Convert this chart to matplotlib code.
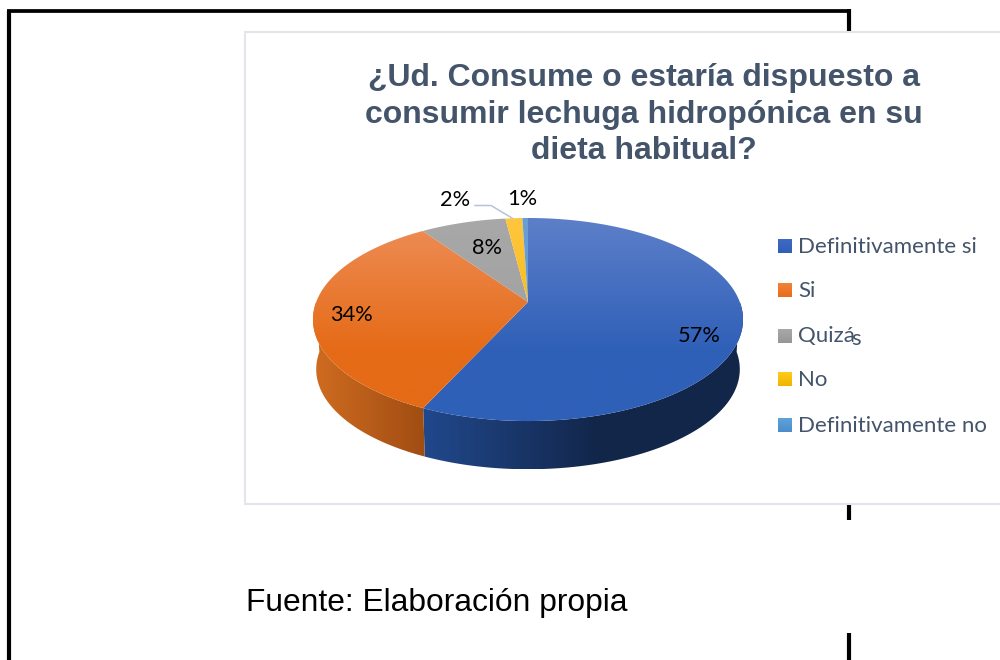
import numpy as np
import matplotlib
matplotlib.use("Agg")
import matplotlib.pyplot as plt
from matplotlib.patches import Polygon, Rectangle
from matplotlib.colors import LinearSegmentedColormap

categories = ["Definitivamente si", "Si", "Quizás", "No", "Definitivamente no"]
shares = [56.85, 33.55, 7.6, 1.5, 0.5]
pct_labels = ["57%", "34%", "8%", "2%", "1%"]
title_lines = ["¿Ud. Consume o estaría dispuesto a",
               "consumir lechuga hidropónica en su",
               "dieta habitual?"]
source_text = "Fuente: Elaboración propia"

top_colors = [("#5D7FC9", "#2F60B8"), ("#EE8E58", "#E56B17"), ("#A8A8A8", "#A0A0A0"),
              ("#FFC63F", "#F5B90A"), ("#6A9FD6", "#5B9BD5")]
side_colors = [("#21488C", "#12264A"), ("#D06C20", "#A04D13")]
legend_colors = [("#3F6AC4", "#2F5FB8"), ("#F0843C", "#E86C18"), ("#A9A9A9", "#969696"),
                 ("#FFCC1A", "#EFB500"), ("#5FA2DC", "#4A8DC8")]

text_blue = "#44546A"

# pie geometry in pixels, perspective is faked by a projective map
cx, cy = 528, 302
k = 0.1725
A = 98.5
B = 211.8


def project(t, scale=1.0, dy=0):
    u = np.sin(t)
    v = np.cos(t)
    d = 1 + k * v
    return cx + scale * B * u / d, cy - scale * A * v / d + dy


def grad(ax, box, c1, c2, clip, vertical=True, vmax=1.0):
    cmap = LinearSegmentedColormap.from_list("g", [c1, c2])
    arr = np.linspace(0, 1, 256)
    arr = arr.reshape(-1, 1) if vertical else arr.reshape(1, -1)
    im = ax.imshow(arr, cmap=cmap, extent=box, aspect="auto", origin="upper",
                   zorder=clip.get_zorder(), vmin=0, vmax=vmax)
    im.set_clip_path(clip)


fig = plt.figure(figsize=(10, 6.6), dpi=100)
ax = fig.add_axes([0, 0, 1, 1])
ax.set_xlim(0, 1000)
ax.set_ylim(660, 0)
ax.axis("off")

# black page frame behind the white pasted boxes
ax.plot([8.8, 8.8], [660, 11], color="black", lw=3, solid_capstyle="butt", zorder=1)
ax.plot([6.7, 851], [10.9, 10.9], color="black", lw=2.7, solid_capstyle="butt", zorder=1)
ax.plot([849, 849], [9, 660], color="black", lw=3, solid_capstyle="butt", zorder=1)
ax.add_patch(Rectangle((240, 519.5), 620, 113.5, fc="white", ec="none", zorder=1.5))
ax.add_patch(Rectangle((244.5, 31.5), 770, 472.5, fc="white", ec="#E2E5EB", lw=1.5, zorder=2))

# side wall, only the front part shows
edges = np.cumsum([0] + shares) / 100 * 2 * np.pi
for i in range(2):
    t0 = max(edges[i], np.pi / 2)
    t1 = min(edges[i + 1], 3 * np.pi / 2)
    ts = np.linspace(t0, t1, 120)
    xt, yt = project(ts)
    xb, yb = project(ts, 0.985, 50)
    pts = np.r_[np.c_[xt, yt], np.c_[xb, yb][::-1]]
    poly = Polygon(pts, closed=True, fc="none", ec="none", zorder=3)
    ax.add_patch(poly)
    c1, c2 = side_colors[i]
    box = (pts[:, 0].min(), pts[:, 0].max(), pts[:, 1].max(), pts[:, 1].min())
    grad(ax, box, c1, c2, poly, vertical=False, vmax=0.55 if i == 0 else 1.0)

# top face
for i in range(len(shares)):
    ts = np.linspace(edges[i], edges[i + 1], 200)
    xt, yt = project(ts)
    pts = np.r_[[[cx, cy]], np.c_[xt, yt]]
    poly = Polygon(pts, closed=True, fc="none", ec="none", zorder=4)
    ax.add_patch(poly)
    c1, c2 = top_colors[i]
    grad(ax, (pts[:, 0].min(), pts[:, 0].max(), 421, 218), c1, c2, poly, vmax=0.65)

# percent labels
label_pos = [(699, 336), (351, 315), (487, 248), (455, 200), (522, 199)]
for s, (x, y) in zip(pct_labels, label_pos):
    ax.text(x, y, s, family="Lato", fontsize=15.7, color="black", ha="center", va="center", zorder=6)
ax.plot([475, 491, 512], [205.5, 205.5, 218], color="#B4C4DC", lw=1.1, zorder=6)

# title
for line, y in zip(title_lines, [78, 115, 151]):
    ax.text(644, y, line, family="Liberation Sans", fontweight="bold", fontsize=23,
            color=text_blue, ha="center", va="center", zorder=6)

# legend
legend_y = [246, 290, 336, 379, 425]
for name, y, (c1, c2) in zip(categories, legend_y, legend_colors):
    box = Rectangle((778, y - 7), 14, 14, fc="none", ec="none", zorder=5)
    ax.add_patch(box)
    grad(ax, (778, 792, y + 7, y - 7), c1, c2, box)
    if name == "Quizás":
        ax.text(798, y, "Quizá", family="Lato", fontsize=16, color=text_blue, va="center", zorder=6)
        ax.text(851, y + 3, "s", family="Lato", fontsize=16, color=text_blue, va="center", zorder=6)
    else:
        ax.text(798, y + 1, name, family="Lato", fontsize=16, color=text_blue, va="center", zorder=6)

ax.set_xlim(0, 1000)
ax.set_ylim(660, 0)

ax.text(246, 603, source_text, family="Liberation Sans", fontsize=22.9, color="black", va="center", zorder=6)

fig.savefig("out.png", dpi=100)
